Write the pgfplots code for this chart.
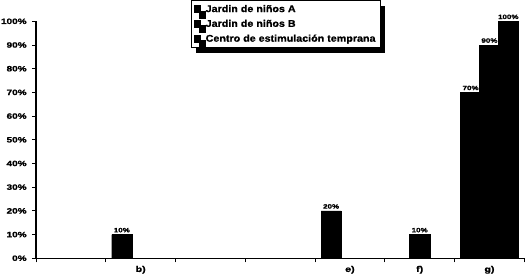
\documentclass[border=0pt]{standalone}
\usepackage{pgfplots}
\pgfplotsset{compat=1.18}
\usepackage{fontspec}
\setmainfont{Liberation Sans}
\newfontfamily\wide[FakeStretch=1.3,FakeBold=1.5]{Liberation Sans Bold}
\newfontfamily\legfont[FakeStretch=1.1,FakeBold=1]{Liberation Sans Bold}
\usetikzlibrary{shadows}
\pgfplotsset{sqleg/.style={legend image code/.code={\fill[black] (0cm,-0.12cm) rectangle (0.22cm,0.12cm);}}}
\begin{document}
\begin{tikzpicture}
\begin{axis}[
 scale only axis, width=474bp, height=230bp,
 xmin=-0.5, xmax=6.5, ymin=0, ymax=100,
 axis lines*=left, axis line style={line width=1.3pt},
 xtick={-0.5,0.5,...,6.5}, x tick label as interval, xticklabels={,b),,,e),f),g)},
 ytick={0,10,...,100}, yticklabel={\pgfmathprintnumber{\tick}\%},
 tick align=outside, major tick length=4pt, tick style={black, line width=0.8pt},
 yticklabel style={font=\wide\fontsize{7.5}{8}\selectfont, inner sep=1pt, xshift=-4pt},
 xticklabel style={font=\wide\fontsize{8}{9}\selectfont},
 /pgf/number format/assume math mode=true,
 ybar, bar width=0.29,
 nodes near coords={\pgfmathprintnumber{\pgfplotspointmeta}\%},
 nodes near coords style={font=\wide\fontsize{6}{7}\selectfont, inner sep=2pt},
 legend style={at={(axis description cs:0.317,1.09)}, anchor=north west, draw=black, line width=0.8pt, fill=white, drop shadow={shadow xshift=5bp, shadow yshift=-5bp, fill=black, opacity=1}, font=\legfont\fontsize{9.5}{11}\selectfont, row sep=2pt, inner sep=2.5pt},
 legend cell align=left,
 /tikz/every odd column/.append style={column sep=2.5pt},
]
\addplot[fill=black, draw=black, bar shift=-0.27, sqleg] coordinates {(1,10) (4,20) (6,70)};
\addplot[fill=black, draw=black, bar shift=0, sqleg] coordinates {(5,10) (6,90)};
\addplot[fill=black, draw=black, bar shift=0.27, sqleg] coordinates {(6,100)};
\legend{Jardin de niños A, Jardin de niños B, Centro de estimulación temprana}
\end{axis}
\end{tikzpicture}
\end{document}
